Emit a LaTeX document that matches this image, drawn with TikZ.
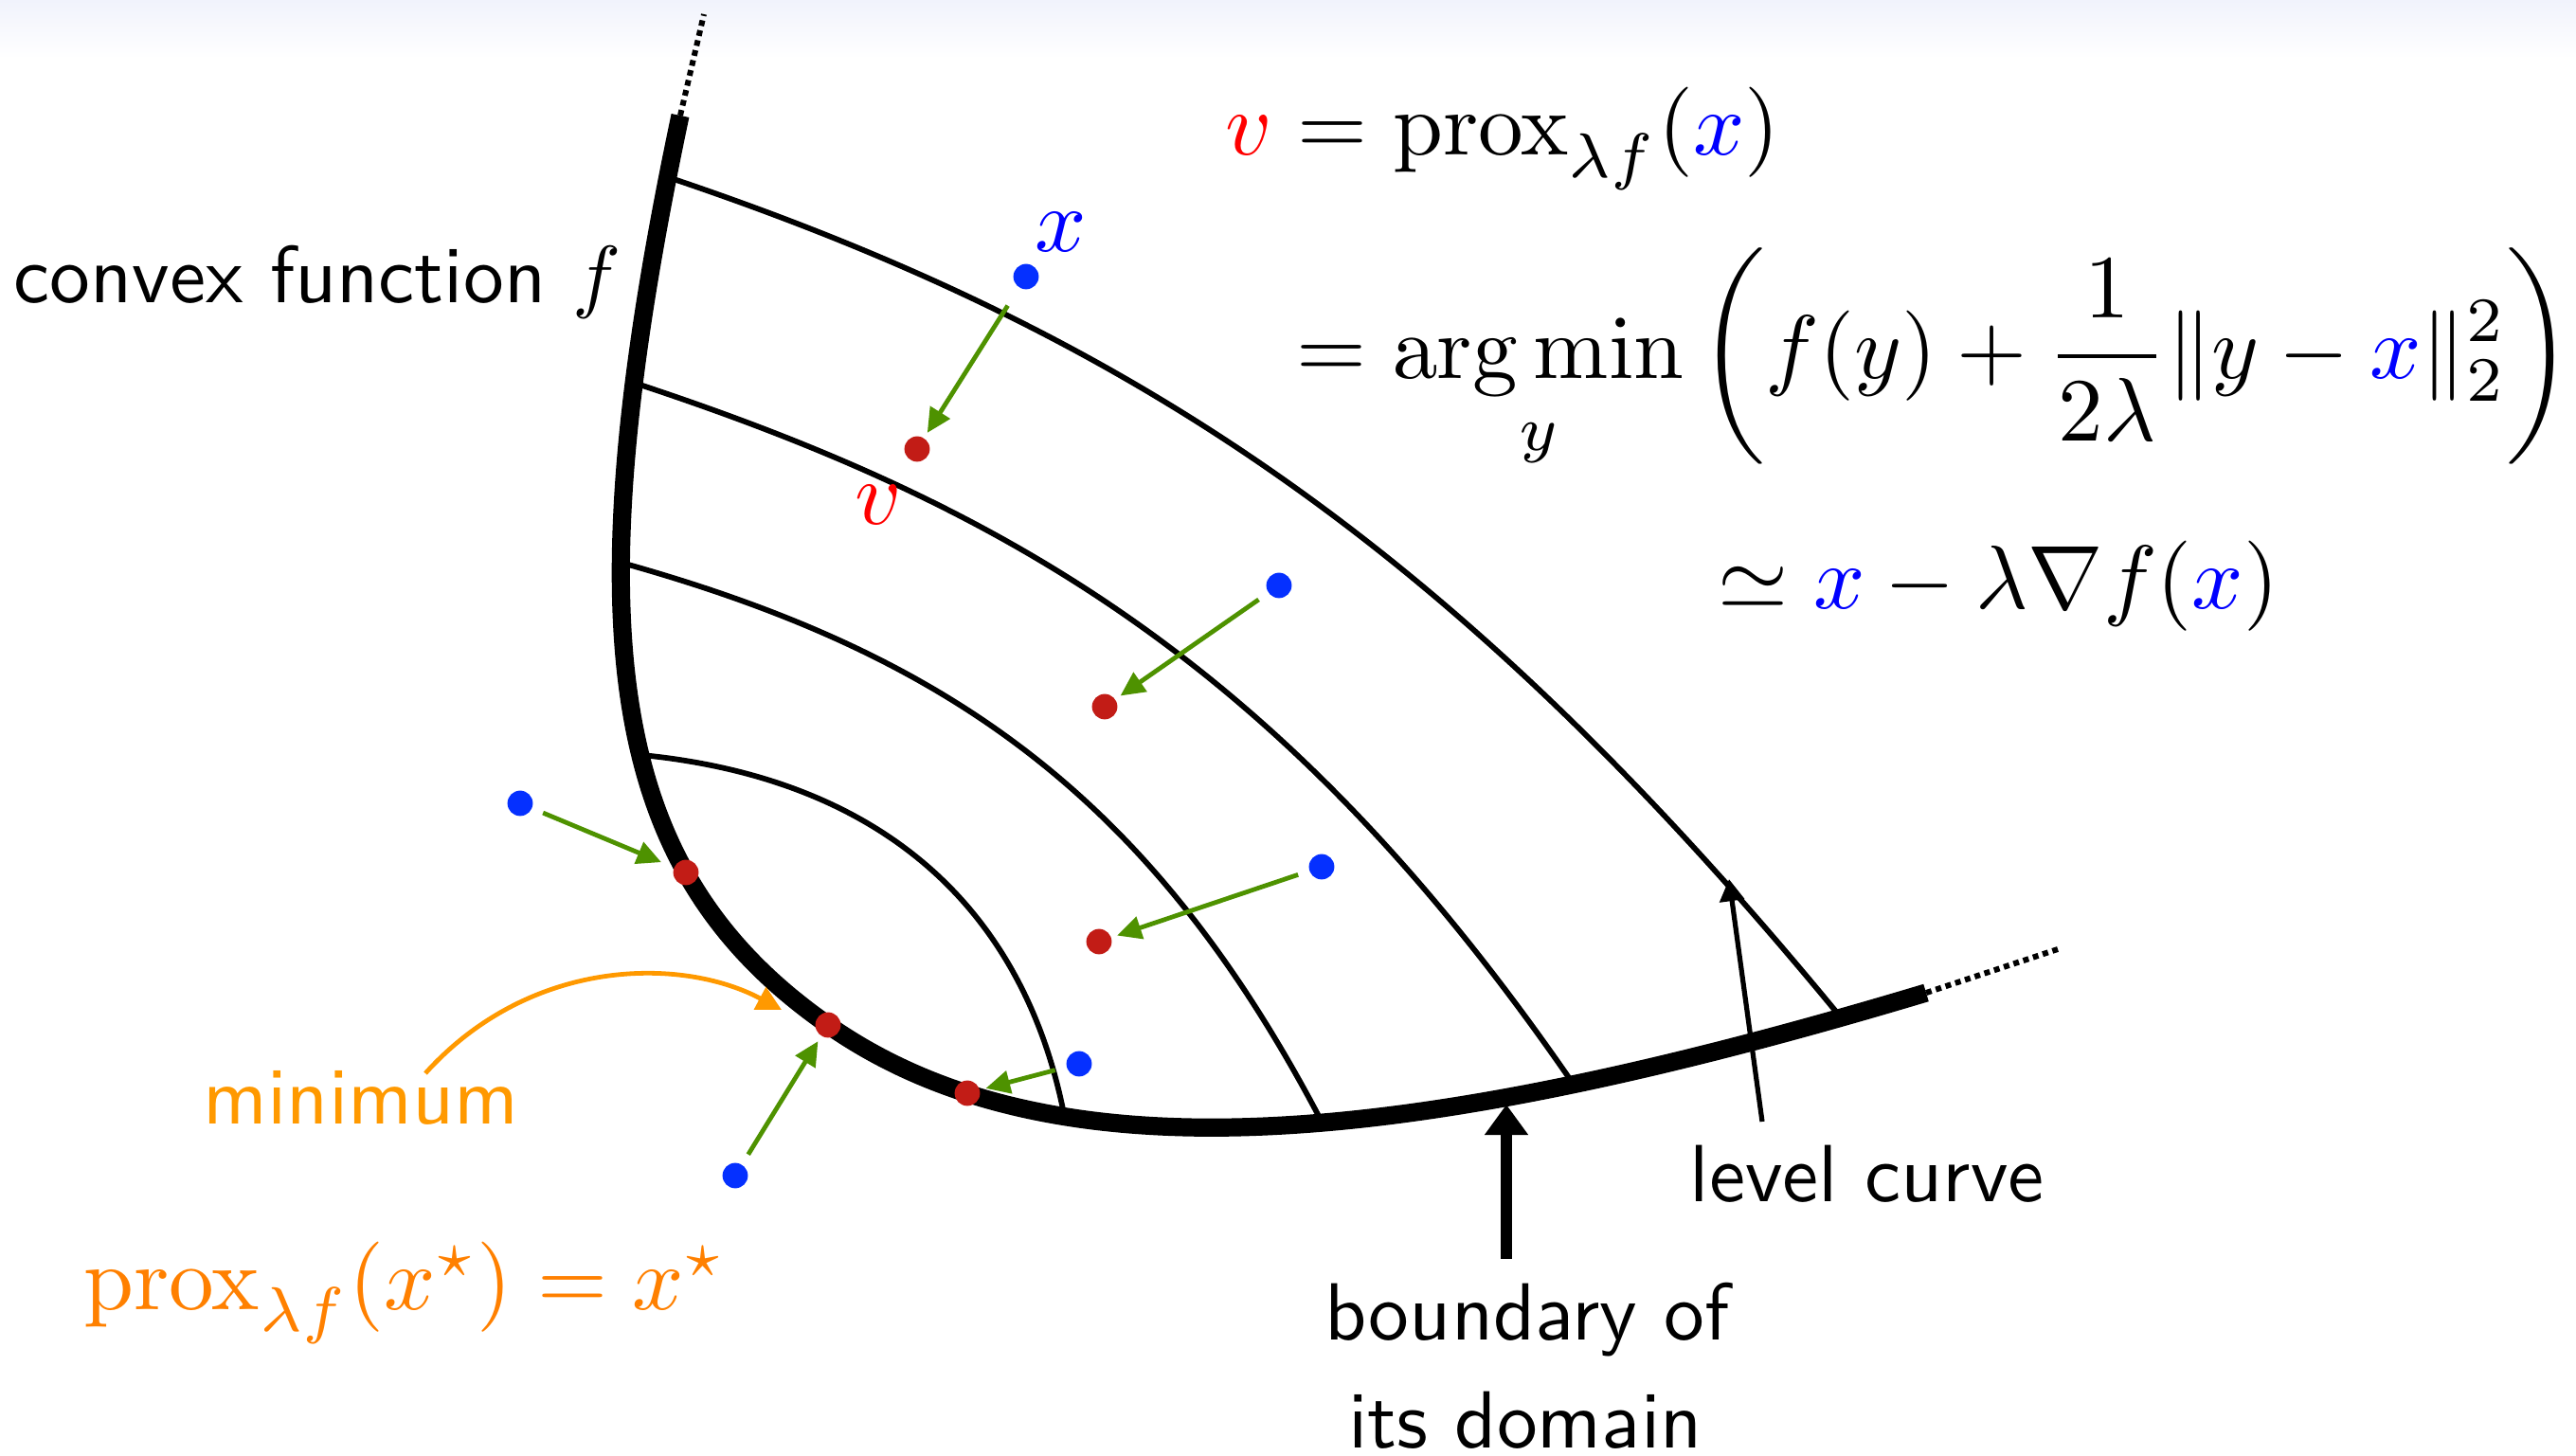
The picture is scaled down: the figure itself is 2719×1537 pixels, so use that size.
\documentclass[tikz,border=0pt]{standalone}
\usepackage{amsmath}
\usetikzlibrary{arrows.meta}
\definecolor{dotblue}{RGB}{5,48,255}
\definecolor{dotred}{RGB}{194,28,22}
\definecolor{arrgreen}{RGB}{78,146,0}
\definecolor{orangeA}{RGB}{255,153,0}
\definecolor{orangeB}{RGB}{255,128,0}
\definecolor{bandblue}{RGB}{241,243,252}
\begin{document}
\begin{tikzpicture}[x=0.25pt,y=-0.25pt,
  levelline/.style={line width=1.45pt},
  boundaryline/.style={line width=4.8pt},
  extline/.style={line width=1.5pt, dash pattern=on 1.5pt off 1.2pt},
  bdot/.style={circle,fill=dotblue,inner sep=0pt,minimum size=6.7pt},
  rdot/.style={circle,fill=dotred,inner sep=0pt,minimum size=6.7pt},
  proxarrow/.style={draw=arrgreen,line width=1.2pt,-{Triangle[length=6.4pt,width=6pt]},shorten <=3pt,shorten >=1.5pt},
  lcarrow/.style={line width=1.3pt,-{Triangle[length=5.8pt,width=6.4pt]}},
  bdarrow/.style={line width=2.8pt,-{Triangle[length=8pt,width=11pt]}},
  minarrow/.style={draw=orangeA,line width=1.2pt,-{Triangle[length=6.5pt,width=6.5pt]}},
  txt/.style={inner sep=0pt,font=\sffamily,scale=2.14,transform shape},
  mth/.style={inner sep=0pt,scale=2.38,transform shape},
]
\useasboundingbox (0,0) rectangle (2719,1537);
\shade[top color=bandblue, bottom color=white] (0,0) rectangle (2719,62);

% level curves
\draw[levelline] (705,187) .. controls (1205,355) and (1543,587) .. (1943,1074);
\draw[levelline] (669,404) .. controls (1070,536) and (1359,707) .. (1659,1142);
\draw[levelline] (656,594) .. controls (1000,690) and (1215,840) .. (1395,1184);
\draw[levelline] (677,797) .. controls (932,822) and (1080,960) .. (1123,1176);

% boundary of the domain
\draw[boundaryline] (718,122) .. controls (602,672) and (643,921) .. (874,1082)
                     .. controls (1114,1250) and (1493,1210) .. (2033,1048);
\draw[extline] (718,122) -- (743,15);
\draw[extline] (2033,1048) -- (2172,1002);

% points
\node[bdot] (b1) at (1083,292) {};
\node[rdot] (r1) at (968,474) {};
\node[bdot] (b2) at (1350,618) {};
\node[rdot] (r2) at (1166,746) {};
\node[bdot] (b3) at (1395,915) {};
\node[rdot] (r3) at (1160,994) {};
\node[bdot] (b4) at (549,848) {};
\node[rdot] (r4) at (724,921) {};
\node[bdot] (b5) at (1139,1123) {};
\node[rdot] (r5) at (1021,1154) {};
\node[bdot] (b6) at (776,1241) {};
\node[rdot] (r6) at (874,1082) {};

\draw[proxarrow, shorten <=5.5pt] (b1) -- (r1);
\draw[proxarrow] (b2) -- (r2);
\draw[proxarrow] (b3) -- (r3);
\draw[proxarrow, shorten >=3.5pt] (b4) -- (r4);
\draw[proxarrow] (b5) -- (r5);
\draw[proxarrow] (b6) -- (r6);

% labels of x and v
\node[mth, text=blue] (lx) at (1120,245) {$x$};
\node[mth, text=red] (lv) at (927,533) {$v$};

% texts
\node[txt, anchor=base west] (cf) at (13,320) {convex function $f$};
\node[txt, text=orangeA, anchor=base] (mn) at (381,1187) {minimum};
\node[mth, text=orangeB, anchor=base west] (pf) at (87,1382) {$\mathrm{prox}_{\lambda f}(x^\star) = x^\star$};
\node[txt, anchor=base west] (lc) at (1782,1268) {level curve};
\node[txt, anchor=base] (bd1) at (1612,1414) {boundary of};
\node[txt, anchor=base] (bd2) at (1610,1528) {its domain};

% formula
\node[mth, anchor=base west] (e1) at (1292,164) {$\textcolor{red}{v} = \mathrm{prox}_{\lambda f}(\textcolor{blue}{x})$};
\node[mth, anchor=base west] (e2) at (1367,400) {$\displaystyle = \operatorname*{arg\,min}_y \left( f(y) + \frac{1}{2\lambda}\lVert y - \textcolor{blue}{x}\rVert_2^2 \right)$};
\node[mth, anchor=base west] (e3) at (1812,643) {$\simeq \textcolor{blue}{x} - \lambda \nabla f(\textcolor{blue}{x})$};

% annotation arrows
\coordinate (lcfoot) at (1860,1184);
\coordinate (lctip) at (1825,928);
\draw[lcarrow] (lcfoot) -- (lctip);
\coordinate (bdtip) at (1590,1166);
\draw[bdarrow, shorten <=5.75pt] (bdtip |- bd1.north) -- (bdtip);
\coordinate (mfoot) at (449,1133);
\coordinate (mtip) at (825,1066);
\draw[minarrow] (mfoot) .. controls (560,1010) and (720,1010) .. (mtip);
\end{tikzpicture}
\end{document}
